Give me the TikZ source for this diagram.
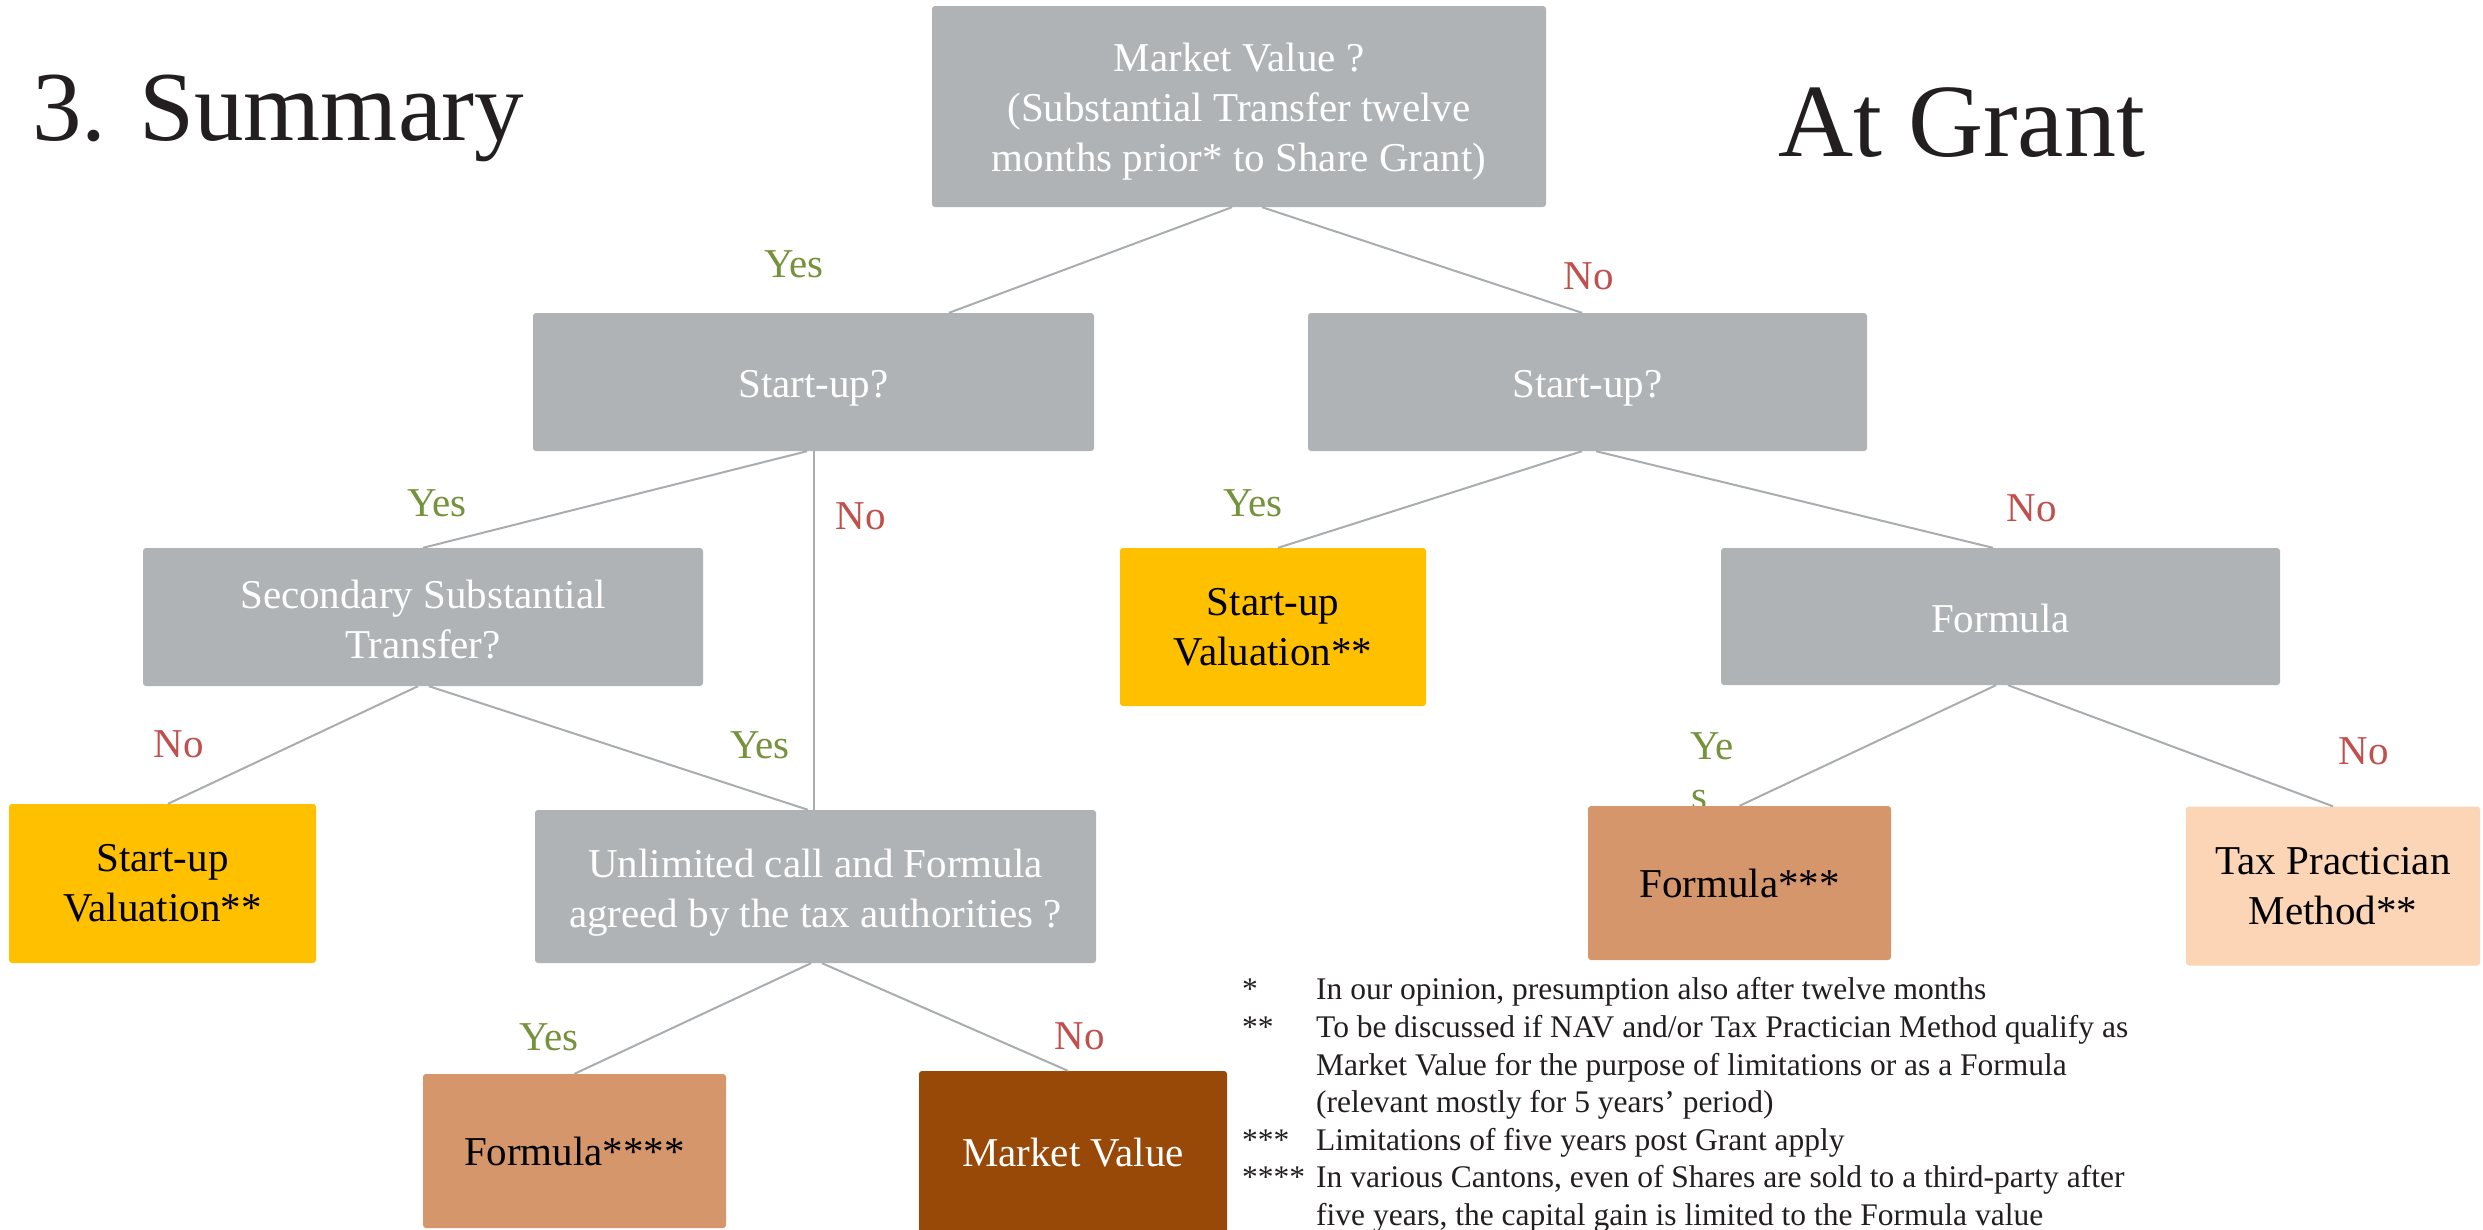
\documentclass[tikz,border=0pt]{standalone}
\usepackage{fontspec}
\newfontfamily\gar{Liberation Serif}
\definecolor{boxgray}{HTML}{AFB3B6}
\definecolor{linegray}{HTML}{A9ADB0}
\definecolor{valyellow}{HTML}{FFC000}
\definecolor{formtan}{HTML}{D4966A}
\definecolor{mvbrown}{HTML}{984807}
\definecolor{taxpeach}{HTML}{FBD5B5}
\definecolor{yesgreen}{HTML}{76923C}
\definecolor{nored}{HTML}{C0504D}
\definecolor{titleblack}{HTML}{231F20}
\begin{document}
\begin{tikzpicture}[x=1pt,y=-1pt,
  box/.style={rectangle, rounded corners=3pt, inner sep=0pt, align=center,
    font=\gar\fontsize{41}{50}\selectfont},
  graybox/.style={box, fill=boxgray},
  boxtext/.style n args={2}{label={[inner sep=0pt, align=center,
    font=\gar\fontsize{41}{50}\selectfont, text=white, yshift=#1]center:{#2}}},
  yelbox/.style={box, fill=valyellow, text=black},
  tanbox/.style={box, fill=formtan, text=black},
  brownbox/.style={box, fill=mvbrown, text=white},
  peachbox/.style={box, fill=taxpeach, text=black},
  conn/.style={draw=linegray, line width=2pt},
  lab/.style={anchor=base, inner sep=0pt, font=\gar\fontsize{41}{50}\selectfont},
  yeslab/.style={lab, text=yesgreen},
  nolab/.style={lab, text=nored},
  title/.style={anchor=base west, inner sep=0pt, text=titleblack},
  fn/.style={anchor=base west, inner sep=0pt, font=\gar\fontsize{31.5}{37.6}\selectfont, text=titleblack}]
\useasboundingbox (0,0) rectangle (2483,1229);
\fill[white] (0,0) rectangle (2483,1229);

% titles
\node[title, font=\gar\fontsize{99}{110}\selectfont] (t1) at (32,140) {3. Summary};
\node[title, font=\gar\fontsize{104}{110}\selectfont] (t2) at (1778,156) {At Grant};

% hidden part of wrapped label (drawn before the box that covers it)
\node[lab, anchor=base west, text=yesgreen] (lYes2) at (1691,809) {s};

% boxes
\node[graybox, minimum width=614pt, minimum height=201pt,
  boxtext={-5pt}{Market Value ?\\(Substantial Transfer twelve\\months prior* to Share Grant)}]
  (top) at (1239,106.5) {};
\node[graybox, minimum width=561pt, minimum height=138pt, boxtext={-6pt}{Start-up?}]
  (su1) at (813.5,382) {};
\node[graybox, minimum width=559pt, minimum height=138pt, boxtext={-6pt}{Start-up?}]
  (su2) at (1587.5,382) {};
\node[graybox, minimum width=560pt, minimum height=138pt,
  boxtext={-3pt}{Secondary Substantial\\Transfer?}] (sec) at (423,617) {};
\node[yelbox, minimum width=306pt, minimum height=158pt] (val2) at (1273,627)
  {Start-up\\Valuation**};
\node[graybox, minimum width=559pt, minimum height=137pt, boxtext={-2pt}{Formula}]
  (form) at (2000.5,616.5) {};
\node[yelbox, minimum width=307pt, minimum height=159pt] (val1) at (162.5,883.5)
  {Start-up\\Valuation**};
\node[graybox, minimum width=561pt, minimum height=153pt,
  boxtext={-6pt}{Unlimited call and Formula\\agreed by the tax authorities ?}]
  (unl) at (815.5,886.5) {};
\node[tanbox, minimum width=303pt, minimum height=154pt] (f4) at (574.5,1151) {Formula****};
\node[brownbox, minimum width=308pt, minimum height=164pt] (mv) at (1073,1153) {Market Value};
\node[tanbox, minimum width=303pt, minimum height=154pt] (f3) at (1739.5,883) {Formula***};
\node[peachbox, minimum width=294pt, minimum height=159pt] (tax) at (2333,886)
  {Tax Practician\\Method**};

% connectors
\draw[conn] ([xshift=-7pt]top.south) -- ([xshift=135.5pt]su1.north);
\draw[conn] ([xshift=23pt]top.south) -- ([xshift=-5.5pt]su2.north);
\draw[conn] ([xshift=-6.5pt]su1.south) -- (sec.north);
\draw[conn] (su1.south) -- (su1.south |- unl.north);
\draw[conn] ([xshift=-5pt]sec.south) -- ([xshift=5.5pt]val1.north);
\draw[conn] ([xshift=6pt]sec.south) -- ([xshift=-7.5pt]unl.north);
\draw[conn] ([xshift=-5.5pt]su2.south) -- ([xshift=5pt]val2.north);
\draw[conn] ([xshift=8.5pt]su2.south) -- ([xshift=-7.5pt]form.north);
\draw[conn] ([xshift=-4.5pt]form.south) -- (f3.north);
\draw[conn] ([xshift=7.5pt]form.south) -- (tax.north);
\draw[conn] ([xshift=-4.5pt]unl.south) -- (f4.north);
\draw[conn] ([xshift=6.5pt]unl.south) -- ([xshift=-5pt]mv.north);

% labels
\node[yeslab] (lA) at (794,277) {Yes};
\node[nolab] (lB) at (1589,289) {No};
\node[yeslab] (lC) at (437,516) {Yes};
\node[nolab] (lD) at (861,529) {No};
\node[yeslab] (lE) at (1253,516) {Yes};
\node[nolab] (lF) at (2032,521) {No};
\node[nolab] (lG) at (179,757) {No};
\node[yeslab] (lH) at (760,758) {Yes};
\node[yeslab] (lI) at (549,1050) {Yes};
\node[nolab] (lJ) at (1080,1049) {No};
\node[lab, anchor=base west, text=yesgreen] (lYes1) at (1690,759) {Ye};
\node[nolab] (lK) at (2364,764) {No};

% footnotes
\node[fn] (m1) at (1242,999) {*};
\node[fn] (n1) at (1316,999) {In our opinion, presumption also after twelve months};
\node[fn] (m2) at (1242,1037) {**};
\node[fn] (n2) at (1316,1037) {To be discussed if NAV and/or Tax Practician Method qualify as};
\node[fn] (n2b) at (1316,1075) {Market Value for the purpose of limitations or as a Formula};
\node[fn] (n2c) at (1316,1112) {(relevant mostly for 5 years’ period)};
\node[fn] (m3) at (1242,1150) {***};
\node[fn] (n3) at (1316,1150) {Limitations of five years post Grant apply};
\node[fn] (m4) at (1242,1187) {****};
\node[fn] (n4) at (1316,1187) {In various Cantons, even of Shares are sold to a third-party after};
\node[fn] (n4b) at (1316,1225) {five years, the capital gain is limited to the Formula value};
\end{tikzpicture}
\end{document}
